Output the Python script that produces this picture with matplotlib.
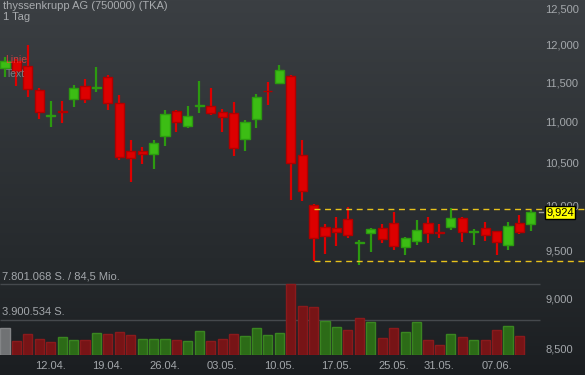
import matplotlib
matplotlib.use("Agg")
import matplotlib.pyplot as plt
import numpy as np
from matplotlib.colors import LinearSegmentedColormap
from matplotlib.ticker import NullLocator

plt.rcParams["font.family"] = ["Liberation Sans", "DejaVu Sans"]

# ---- data (daily candles, 06.04. - 10.06.) -------------------------------------------
opens = [11690, 11785, 11715, 11405, 11070, 11135, 11290, 11455, 11425, 11575,
         11235, 10640, 10640, 10605, 10825, 11135, 10950, 11195, 11200, 11125,
         11110, 10790, 11035, 11395, 11495, 11585, 10595, 10005, 9760, 9750,
         9850, 9585, 9695, 9750, 9805, 9545, 9610, 9805, 9705, 9760,
         9860, 9700, 9750, 9715, 9565, 9805, 9795]
highs = [11840, 11805, 12000, 11430, 11265, 11265, 11470, 11545, 11705, 11600,
         11340, 10775, 10690, 10775, 11150, 11150, 11200, 11520, 11430, 11160,
         11250, 11025, 11350, 11510, 11730, 11600, 10775, 10015, 9795, 9870,
         9980, 9620, 9750, 9795, 9925, 9650, 9840, 9870, 9795, 9970,
         9870, 9740, 9815, 9720, 9815, 9895, 9950]
lows = [11575, 11455, 11315, 11035, 10935, 10985, 11185, 11235, 11380, 11150,
        10535, 10270, 10480, 10430, 10705, 10875, 10925, 11110, 11085, 10875,
        10585, 10640, 10925, 11210, 11480, 10060, 10050, 9390, 9470, 9550,
        9640, 9350, 9490, 9585, 9510, 9450, 9565, 9585, 9640, 9730,
        9600, 9565, 9610, 9450, 9510, 9685, 9715]
closes = [11785, 11655, 11415, 11125, 11085, 11125, 11430, 11290, 11440, 11235,
          10570, 10550, 10605, 10740, 11100, 11000, 11075, 11205, 11110, 11060,
          10680, 11000, 11315, 11385, 11665, 10490, 10165, 9640, 9660, 9705,
          9675, 9595, 9740, 9630, 9555, 9640, 9730, 9695, 9690, 9860,
          9705, 9715, 9675, 9600, 9770, 9705, 9924]

# volume in shares (last day has no bar yet)
volumes = [2970000, 1540000, 2310000, 1760000, 1430000, 1980000, 1650000, 1650000,
           2420000, 2310000, 2530000, 2200000, 1760000, 1760000, 1760000, 1650000,
           1540000, 2640000, 1540000, 1760000, 2310000, 2090000, 2970000, 2200000,
           2420000, 7801068, 5380000, 5270000, 3740000, 3080000, 2750000, 4070000,
           3630000, 1870000, 2970000, 2530000, 3630000, 1650000, 1100000, 2310000,
           1980000, 1650000, 1650000, 2750000, 3190000, 2090000]
vol_dir = ["n", "r", "r", "r", "r", "g", "g", "r", "g", "r",
           "r", "r", "g", "g", "g", "r", "g", "g", "r", "r",
           "r", "g", "g", "g", "g", "r", "r", "r", "g", "g",
           "r", "r", "g", "r", "r", "g", "g", "r", "r", "g",
           "r", "g", "r", "r", "g", "r"]

tick_pos = [4, 9, 14, 19, 24, 29, 34, 38, 43]
tick_labels = ["12.04.", "19.04.", "26.04.", "03.05.", "10.05.",
               "17.05.", "25.05.", "31.05.", "07.06."]
price_ticks = [8500, 9000, 9500, 10000, 10500, 11000, 11500, 12000, 12500]

range_start = 27
range_hi = 9960
range_lo = 9390
turnover_label = "84,5 Mio."

# ---- colours ---------------------------------------------------------------------------
TXT = "#a3a7ab"
UP_FILL, UP_EDGE = "#3cbd14", "#2c9a10"
DN_FILL, DN_EDGE = "#dd0000", "#b00000"
VOL = {"g": ("#2c6b17", "#3a8521"), "r": ("#771416", "#8a1a1c"), "n": ("#707274", "#838587")}

W, H = 585, 375
fig = plt.figure(figsize=(W / 100, H / 100), dpi=100)

# background gradient
bg = fig.add_axes([0, 0, 1, 1])
cmap = LinearSegmentedColormap.from_list(
    "bg", [(0, "#3b3f43"), (0.72, "#25292c"), (1, "#1b1e21")])
bg.imshow(np.linspace(0, 1, 256).reshape(-1, 1), aspect="auto", cmap=cmap,
          extent=[0, 1, 0, 1])
bg.axis("off")

x = np.arange(len(opens))
o = np.array(opens, float)
c = np.array(closes, float)
up = c >= o

x0, x1 = -0.437, 50.74
x_panel_end = 46.8

# volume panel
vax = fig.add_axes([0, 20 / H, 1, 85 / H])
vax.set_facecolor("none")
vmax = max(volumes)
vx = np.arange(len(volumes))
vax.bar(vx, volumes, width=0.8,
        color=[VOL[d][0] for d in vol_dir], edgecolor=[VOL[d][1] for d in vol_dir],
        linewidth=1, zorder=3)
vax.hlines([vmax, vmax / 2], x0, x_panel_end, colors="#45494d", lw=1, zorder=1)
vax.text(x0 + 0.15, vmax * 1.03, f"{vmax:,} S. / {turnover_label}".replace(",", ".", 2),
         fontsize=8, color=TXT, va="bottom", ha="left")
vax.text(x0 + 0.15, vmax / 2 * 1.06, f"{vmax // 2:,} S.".replace(",", "."),
         fontsize=8, color=TXT, va="bottom", ha="left")
vax.set_xlim(x0, x1)
vax.set_ylim(0, vmax * 85 / 71)
vax.axis("off")

# price panel (log scale, axis continues down through the volume panel)
ax = fig.add_axes([0, 20 / H, 1, 355 / H])
ax.set_facecolor("none")
ax.set_yscale("log")
ax.set_xlim(x0, x1)
ax.set_ylim(8441, 12628)

ax.vlines(x, lows, highs, colors=np.where(up, UP_EDGE, DN_FILL), lw=1.6, zorder=2)
ax.bar(x, np.abs(c - o), bottom=np.minimum(o, c), width=0.8,
       color=np.where(up, UP_FILL, DN_FILL), edgecolor=np.where(up, UP_EDGE, DN_EDGE),
       linewidth=1, zorder=3)

ax.hlines([range_hi, range_lo], range_start, x1, colors="#e8c21c",
          linestyles=(0, (4.3, 3.3)), lw=1, zorder=4, clip_on=False)

last = closes[-1]
ax.plot([0.921, 0.928], [last, last], color="#9a9da0", lw=1,
        transform=ax.get_yaxis_transform(), zorder=4)
ax.text(0.934, last, f"{last:,}", transform=ax.get_yaxis_transform(),
        fontsize=8, color="black", va="center", ha="left", zorder=6,
        bbox=dict(boxstyle="square,pad=0.12", fc="#ffff00", ec="black", lw=1))

ax.yaxis.tick_right()
ax.set_yticks(price_ticks, [f"{v:,}" for v in price_ticks])
ax.yaxis.set_minor_locator(NullLocator())
ax.tick_params(axis="y", length=0, pad=-28.8, labelsize=8, labelcolor=TXT)
ax.set_xticks(tick_pos, tick_labels)
ax.tick_params(axis="x", length=0, pad=4.5, labelsize=8, labelcolor=TXT)
for s in ax.spines.values():
    s.set_visible(False)

# header + drawing-tool leftovers
fig.text(3 / W, 1 - 1 / H, "thyssenkrupp AG (750000) (TKA)", fontsize=8,
         color="#a8abae", va="top", ha="left")
fig.text(3 / W, 1 - 12 / H, "1 Tag", fontsize=8, color="#a8abae", va="top", ha="left")
fig.text(5 / W, 1 - 60 / H, "Linie", fontsize=7.5, color="#ff4040", alpha=0.75,
         va="center", ha="left")
fig.text(6 / W, 1 - 74 / H, "Text", fontsize=7.5, color="#8a8d90", alpha=0.8,
         va="center", ha="left")

fig.savefig("out.png", dpi=100)
